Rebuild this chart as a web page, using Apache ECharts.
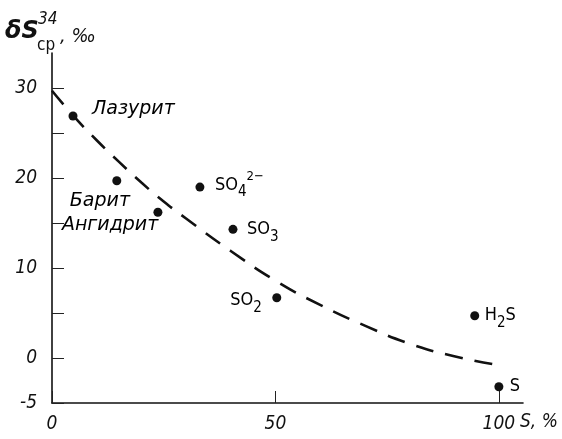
<!DOCTYPE html>
<html><head><meta charset="utf-8">
<script src="https://cdn.jsdelivr.net/npm/echarts@6/dist/echarts.min.js"></script>
<style>html,body{margin:0;padding:0;background:#fff}#c{width:562px;height:439px}</style>
</head><body><div id="c"></div>
<script>
// ---- data ----
const pointNames = ['Лазурит', 'Барит', 'Ангидрит', 'SO4', 'SO3', 'SO2', 'H2S', 'S'];
const pointX = [4.7, 14.5, 23.7, 33.1, 40.5, 50.3, 94.6, 100];
const pointY = [26.9, 19.7, 16.2, 19.0, 14.3, 6.7, 4.7, -3.2];
const curveX = [0, 5, 10, 15, 20, 25, 30, 40, 50, 60, 70, 80, 90, 100];
const curveY = [29.7, 26.8, 24.2, 21.8, 19.5, 17.4, 15.5, 11.9, 8.6, 5.9, 3.6, 1.6, 0.2, -0.8];
const yTicks = [-5, 0, 5, 10, 15, 20, 25, 30];
const yTickLabels = [-5, 0, 10, 20, 30];
const xTicks = [0, 50, 100];
const xTickLabels = [0, 50, 100];

// ---- styling ----
const NARROW = "'Liberation Sans Narrow', 'DejaVu Sans Condensed', sans-serif";
const ITAL = "'DejaVu Sans', sans-serif";
const labelText = {
  'Лазурит': '{it|Лазурит}',
  'Барит': '{it|Барит}',
  'Ангидрит': '{it|Ангидрит}',
  'SO4': '{m|SO}{sub|4}{sup|2−}',
  'SO3': '{m|SO}{sub|3}',
  'SO2': '{m|SO}{sub|2}',
  'H2S': '{m|H}{sub|2}{m|S}',
  'S': '{m|S}'
};
const labelLayout = {
  'Лазурит': {align: 'left', offset: [19, -7]},
  'Барит': {align: 'left', offset: [-47, 20]},
  'Ангидрит': {align: 'left', offset: [-96, 13]},
  'SO4': {align: 'left', offset: [15, -2]},
  'SO3': {align: 'left', offset: [14, 0]},
  'SO2': {align: 'right', offset: [-15, 3]},
  'H2S': {align: 'left', offset: [10, 0]},
  'S': {align: 'left', offset: [11, 0]}
};
const rich = {
  it: {fontFamily: ITAL, fontStyle: 'italic', fontSize: 19, color: '#000', lineHeight: 22},
  m: {fontFamily: NARROW, fontSize: 18, color: '#000', lineHeight: 30, verticalAlign: 'middle'},
  sub: {fontFamily: NARROW, fontSize: 15, color: '#000', lineHeight: 15, verticalAlign: 'bottom'},
  sup: {fontFamily: NARROW, fontSize: 13, color: '#000', lineHeight: 13, verticalAlign: 'top'}
};

const scatterData = pointNames.map((n, i) => ({
  value: [pointX[i], pointY[i]],
  name: n,
  label: {
    show: true, position: 'inside', verticalAlign: 'middle', color: '#000',
    align: labelLayout[n].align, offset: labelLayout[n].offset,
    formatter: labelText[n], rich: rich
  }
}));
const curveData = curveX.map((x, i) => [x, curveY[i]]);

const chart = echarts.init(document.getElementById('c'), null, {renderer: 'canvas'});
chart.setOption({
  animation: false,
  backgroundColor: '#fff',
  grid: {left: 52, right: 39, top: 53, bottom: 36, containLabel: false},
  xAxis: {
    type: 'value', min: 0, max: 105.4,
    axisLine: {show: true, onZero: false, lineStyle: {color: '#111', width: 1.6}},
    axisTick: {show: true, inside: true, length: 12, customValues: xTicks, lineStyle: {color: '#222', width: 1}},
    axisLabel: {customValues: xTickLabels, margin: 12, fontFamily: NARROW, fontStyle: 'italic', fontSize: 19, color: '#111'},
    splitLine: {show: false}
  },
  yAxis: {
    type: 'value', min: -5, max: 33.9,
    axisLine: {show: true, onZero: false, lineStyle: {color: '#111', width: 1.6}},
    axisTick: {show: true, inside: true, length: 12, customValues: yTicks, lineStyle: {color: '#222', width: 1}},
    axisLabel: {customValues: yTickLabels, margin: 15, fontFamily: NARROW, fontStyle: 'italic', fontSize: 19, color: '#111'},
    splitLine: {show: false}
  },
  graphic: [
    {type: 'text', left: 5, top: 20, style: {text: 'δS', font: "bold italic 24px 'DejaVu Sans', sans-serif", fill: '#111'}},
    {type: 'text', left: 38, top: 11, style: {text: '34', font: "italic 17px " + NARROW, fill: '#111'}},
    {type: 'text', left: 37, top: 37, style: {text: 'ср', font: "17px " + NARROW, fill: '#111'}},
    {type: 'text', left: 60, top: 27, style: {text: ', ‰', font: "italic 20px " + NARROW, fill: '#111'}},
    {type: 'text', left: 520, top: 413, style: {text: 'S, %', font: "italic 19px " + NARROW, fill: '#111'}}
  ],
  series: [
    {
      type: 'line', data: curveData, smooth: true, showSymbol: false, silent: true,
      lineStyle: {color: '#111', width: 2.6, type: [18, 12]}, z: 2
    },
    {
      type: 'scatter', data: scatterData, symbol: 'circle', symbolSize: 9,
      itemStyle: {color: '#111', opacity: 1}, z: 3
    }
  ]
});
</script></body></html>
